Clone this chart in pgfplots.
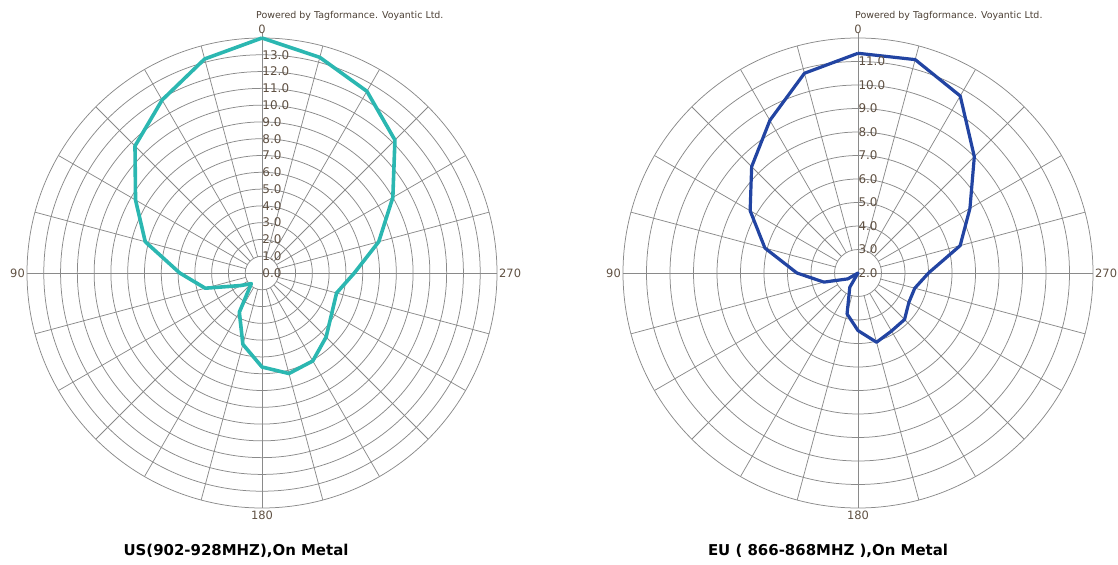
\documentclass[border=0pt]{standalone}
\usepackage{fontspec}
\setmainfont{DejaVu Sans}
\usepackage{pgfplots}
\usepackage{pgfplotstable}
\pgfplotsset{compat=1.18}
\usepgfplotslibrary{polar}

\definecolor{gridc}{HTML}{8A8A8A}
\definecolor{labc}{HTML}{5F5042}
\definecolor{usc}{HTML}{2BB7B1}
\definecolor{euc}{HTML}{2244A2}

% angle (0 = top, counter-clockwise), radius
\pgfplotstableread{
ang r
0 14.0
15 13.2
30 11.9
45 10.7
60 8.7
75 7.2
90 4.9
105 3.5
120 1.5
135 0.9
150 2.7
165 4.4
180 5.6
195 6.2
210 6.05
225 5.4
240 4.8
255 4.6
270 5.5
285 7.2
300 9.0
315 11.2
330 12.5
345 13.3
360 14.0
}\usdata

\pgfplotstableread{
ang r
0 11.35
15 10.8
30 9.5
45 8.4
60 7.3
75 6.1
90 4.6
105 3.5
120 2.5
135 2.0
150 2.7
165 3.8
180 4.45
195 5.05
210 4.85
225 4.8
240 4.5
255 4.5
270 5.0
285 6.5
300 7.5
315 9.0
330 10.7
345 11.4
360 11.35
}\eudata

\pgfplotsset{
  mypolar/.style={
    scale only axis, width=470bp, height=470bp,
    anchor=center, clip=false, ymin=0,
    xtick=\empty, yticklabel={\mbox{}}, major tick length=0pt,
    ymajorgrids, major grid style={gridc, line width=0.75pt},
    axis line style={gridc, line width=0.75pt},
  },
}

\begin{document}
\begin{tikzpicture}
\useasboundingbox (0,0) rectangle (1118bp,565bp);

% ---- US chart
\begin{polaraxis}[mypolar, at={(262bp,292bp)}, ymax=14, ytick={1,...,13}]
  \pgfplotsinvokeforeach{15,30,45,60,75,105,120,135,150,165,195,210,225,240,255,285,300,315,330,345}{
    \draw[gridc, line width=0.75pt] (axis cs:#1,1) -- (axis cs:#1,14);}
  \draw[gridc, line width=0.75pt] (axis cs:0,14) -- (axis cs:180,14);
  \draw[gridc, line width=0.75pt] (axis cs:90,14.3) -- (axis cs:270,14);
  \addplot[usc, line width=3.6bp, line join=round] table[x expr=\thisrow{ang}+90, y=r] {\usdata};
  \pgfplotsinvokeforeach{0,...,13}{
    \node[anchor=west, inner sep=0.3pt, text=labc, font=\fontsize{12}{12}\selectfont] at (axis cs:90,#1) {#1.0};}
  \node[anchor=south, inner sep=1pt, text=labc, font=\fontsize{11.5}{12}\selectfont] at (axis cs:90,14.2) {0};
  \node[anchor=east, inner sep=2pt, text=labc, font=\fontsize{11.5}{12}\selectfont] at (axis cs:180,14) {90};
  \node[anchor=north, inner sep=3pt, text=labc, font=\fontsize{11.5}{12}\selectfont] at (axis cs:270,14) {180};
  \node[anchor=west, inner sep=2pt, text=labc, font=\fontsize{11.5}{12}\selectfont] at (axis cs:0,14) {270};
\end{polaraxis}

% ---- EU chart
\begin{polaraxis}[mypolar, at={(858bp,292bp)}, ymax=10, ytick={1,...,9}]
  \pgfplotsinvokeforeach{15,30,45,60,75,105,120,135,150,165,195,210,225,240,255,285,300,315,330,345}{
    \draw[gridc, line width=0.75pt] (axis cs:#1,1) -- (axis cs:#1,10);}
  \draw[gridc, line width=0.75pt] (axis cs:0,10) -- (axis cs:180,10);
  \draw[gridc, line width=0.75pt] (axis cs:90,10.2) -- (axis cs:270,10);
  \addplot[euc, line width=3.2bp, line join=round] table[x expr=\thisrow{ang}+90, y expr=\thisrow{r}-2] {\eudata};
  \pgfplotsinvokeforeach{0,...,9}{
    \node[anchor=west, inner sep=0.3pt, text=labc, font=\fontsize{12}{12}\selectfont] at (axis cs:90,#1) {\pgfmathparse{int(#1+2)}\pgfmathresult.0};}
  \node[anchor=south, inner sep=1pt, text=labc, font=\fontsize{11.5}{12}\selectfont] at (axis cs:90,10.15) {0};
  \node[anchor=east, inner sep=2pt, text=labc, font=\fontsize{11.5}{12}\selectfont] at (axis cs:180,10) {90};
  \node[anchor=north, inner sep=3pt, text=labc, font=\fontsize{11.5}{12}\selectfont] at (axis cs:270,10) {180};
  \node[anchor=west, inner sep=2pt, text=labc, font=\fontsize{11.5}{12}\selectfont] at (axis cs:0,10) {270};
\end{polaraxis}

% ---- texts
\node[anchor=west, inner sep=0pt, text=labc!80!black, font=\fontsize{9.5}{10}\selectfont] at (256bp,549bp) {Powered by Tagformance. Voyantic Ltd.};
\node[anchor=west, inner sep=0pt, text=labc!80!black, font=\fontsize{9.5}{10}\selectfont] at (855bp,549bp) {Powered by Tagformance. Voyantic Ltd.};
\node[inner sep=0pt, font=\bfseries\fontsize{15}{16}\selectfont] at (236bp,14bp) {US(902-928MHZ),On Metal};
\node[inner sep=0pt, font=\bfseries\fontsize{15}{16}\selectfont] at (828bp,14bp) {EU ( 866-868MHZ ),On Metal};
\end{tikzpicture}
\end{document}
